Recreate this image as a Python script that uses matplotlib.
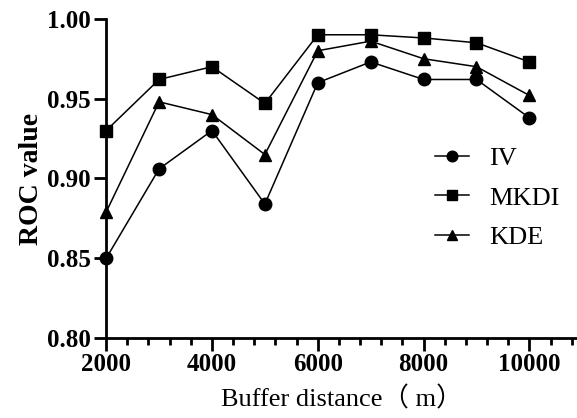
import numpy as np
import matplotlib.pyplot as plt
from matplotlib.ticker import MultipleLocator

# Valeurs
distance = [2000, 3000, 4000, 5000, 6000, 7000, 8000, 9000, 10000]
iv = [0.850, 0.906, 0.930, 0.884, 0.960, 0.973, 0.962, 0.962, 0.938]
mkdi = [0.930, 0.962, 0.970, 0.947, 0.990, 0.990, 0.988, 0.985, 0.973]
kde = [0.879, 0.948, 0.940, 0.915, 0.980, 0.986, 0.975, 0.970, 0.952]

serif = ["Liberation Serif", "Noto Sans CJK SC", "DejaVu Sans"]
plt.rcParams["font.family"] = serif

fig = plt.figure(figsize=(5.77, 4.18), dpi=100)
ax = fig.add_axes([0.184, 0.191, 0.816, 0.764])

ax.plot(distance, iv, "-o", color="black", lw=1.1, ms=9, label="IV", clip_on=False)
ax.plot(distance, mkdi, "-s", color="black", lw=1.1, ms=9, label="MKDI", clip_on=False)
ax.plot(distance, kde, "-^", color="black", lw=1.1, ms=9, label="KDE", clip_on=False)

ax.set_xlim(2000, 10900)
ax.set_ylim(0.80, 1.00)
ax.set_xticks([2000, 4000, 6000, 8000, 10000])
ax.xaxis.set_minor_locator(MultipleLocator(400))
ax.set_yticks([0.80, 0.85, 0.90, 0.95, 1.00])
ax.set_yticklabels(["0.80", "0.85", "0.90", "0.95", "1.00"])

for side in ["top", "right"]:
    ax.spines[side].set_visible(False)
for side in ["left", "bottom"]:
    ax.spines[side].set_linewidth(2)

ax.tick_params(axis="both", which="major", direction="out", length=9, width=2,
               labelsize=18, pad=2)
ax.tick_params(axis="x", which="minor", direction="out", length=5, width=2)
for lab in ax.get_xticklabels() + ax.get_yticklabels():
    lab.set_fontweight("bold")

ax.set_ylabel("ROC value", fontsize=20, fontweight="bold", labelpad=2)
ax.set_xlabel("Buffer distance（ m）", fontsize=19, labelpad=7)

leg = ax.legend(loc="center left", bbox_to_anchor=(435 / 577, 1 - 198 / 418),
                bbox_transform=fig.transFigure, frameon=False, borderpad=0,
                borderaxespad=0, fontsize=19, handlelength=1.3,
                labelspacing=0.6, handletextpad=0.75, markerscale=0.85)

fig.savefig("out.png", dpi=100)
